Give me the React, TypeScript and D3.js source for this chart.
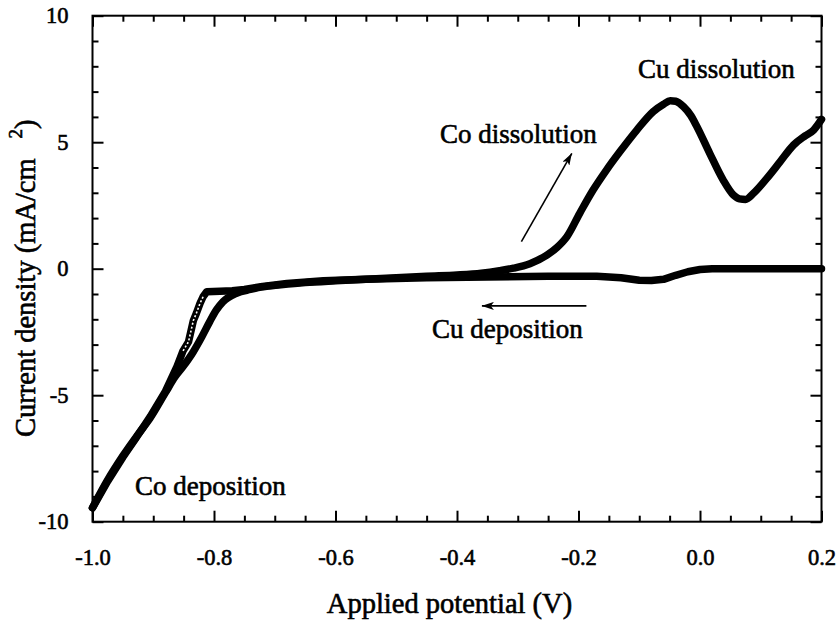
import React, { useEffect, useRef } from 'react';
import * as d3 from 'd3';

// cathodic sweep, 0.2 V -> -1.0 V
const cathodicV = [0.20, 0.15, 0.10, 0.05, 0.02, 0.00, -0.02, -0.04, -0.06, -0.08, -0.10, -0.13, -0.17, -0.25, -0.35, -0.45, -0.55, -0.62, -0.68, -0.72, -0.75, -0.77, -0.79, -0.812, -0.818, -0.823, -0.829, -0.834, -0.842, -0.851, -0.861, -0.88, -0.905, -0.93, -0.95, -0.975, -1.0];
const cathodicI = [0, 0, 0, 0, 0, -0.03, -0.12, -0.26, -0.42, -0.47, -0.46, -0.36, -0.30, -0.30, -0.33, -0.36, -0.42, -0.48, -0.58, -0.70, -0.82, -0.87, -0.89, -0.91, -1.11, -1.37, -1.76, -2.05, -2.89, -3.25, -3.87, -4.85, -5.85, -6.75, -7.45, -8.4, -9.45];

// anodic sweep, -1.0 V -> 0.2 V
const anodicV = [-1.0, -0.975, -0.95, -0.925, -0.905, -0.88, -0.864, -0.851, -0.834, -0.820, -0.807, -0.796, -0.785, -0.763, -0.74, -0.72, -0.69, -0.65, -0.60, -0.55, -0.50, -0.45, -0.40, -0.36, -0.33, -0.307, -0.28, -0.252, -0.235, -0.219, -0.198, -0.176, -0.154, -0.132, -0.104, -0.077, -0.060, -0.049, -0.040, -0.027, -0.015, -0.005, 0.016, 0.038, 0.055, 0.065, 0.075, 0.088, 0.110, 0.132, 0.154, 0.173, 0.187, 0.200];
const anodicI = [-9.45, -8.35, -7.4, -6.55, -5.9, -4.9, -4.27, -3.87, -3.28, -2.69, -2.09, -1.63, -1.30, -0.97, -0.82, -0.72, -0.64, -0.55, -0.48, -0.42, -0.36, -0.30, -0.25, -0.18, -0.08, 0.02, 0.20, 0.54, 0.85, 1.27, 2.19, 3.11, 3.90, 4.62, 5.48, 6.21, 6.50, 6.64, 6.62, 6.40, 6.05, 5.61, 4.56, 3.51, 2.91, 2.76, 2.74, 2.98, 3.57, 4.23, 4.89, 5.25, 5.48, 5.90];

// the fast part of the cathodic sweep (sparse markers)
const sparseFrom = 23;
const sparseTo = 30;

const xTickValues = [-1.0, -0.8, -0.6, -0.4, -0.2, 0.0, 0.2];
const yTickValues = [-10, -5, 0, 5, 10];

const labelTexts = ['Cu dissolution', 'Co dissolution', 'Cu deposition', 'Co deposition'];
const labelV = [-0.102, -0.428, -0.441, -0.930];
const labelI = [7.55, 4.96, -2.75, -8.94];

// arrows: [from V, from I, to V, to I]
const arrows = [
  [-0.294, 1.07, -0.211, 4.56],
  [-0.187, -1.47, -0.359, -1.47],
];

const W = 838;
const H = 621;
const FONT = '"Liberation Serif", "Times New Roman", serif';

export default function App() {
  const ref = useRef<SVGSVGElement>(null);

  useEffect(() => {
    const svg = d3.select(ref.current);
    svg.selectAll('*').remove();

    const left = 92.5, right = 821.5, top = 15.7, bottom = 521.7;
    const x = d3.scaleLinear().domain([-1.0, 0.2]).range([left, right]);
    const y = d3.scaleLinear().domain([-10, 10]).range([bottom, top]);

    const minorX = d3.range(-1.0, 0.2001, 0.05).filter((v) => Math.abs(Math.round(v / 0.2) * 0.2 - v) > 1e-6);
    const minorY = d3.range(-10, 10.001, 1).filter((v) => v % 5 !== 0);

    // minor ticks on all four sides
    const minorSize = 6;
    const majorSize = 11;
    svg.append('g').attr('transform', `translate(0,${bottom})`)
      .call(d3.axisBottom(x).tickValues(minorX).tickSize(-minorSize).tickFormat(() => ''));
    svg.append('g').attr('transform', `translate(0,${top})`)
      .call(d3.axisTop(x).tickValues(minorX).tickSize(-minorSize).tickFormat(() => ''));
    svg.append('g').attr('transform', `translate(${left},0)`)
      .call(d3.axisLeft(y).tickValues(minorY).tickSize(-minorSize).tickFormat(() => ''));
    svg.append('g').attr('transform', `translate(${right},0)`)
      .call(d3.axisRight(y).tickValues(minorY).tickSize(-minorSize).tickFormat(() => ''));

    // major ticks
    svg.append('g').attr('transform', `translate(0,${bottom})`)
      .call(d3.axisBottom(x).tickValues(xTickValues).tickSize(-majorSize).tickPadding(27)
        .tickFormat((d) => (d as number).toFixed(1)));
    svg.append('g').attr('transform', `translate(0,${top})`)
      .call(d3.axisTop(x).tickValues(xTickValues).tickSize(-majorSize).tickFormat(() => ''));
    svg.append('g').attr('transform', `translate(${left},0)`)
      .call(d3.axisLeft(y).tickValues(yTickValues).tickSize(-majorSize).tickPadding(24)
        .tickFormat((d) => String(d)));
    svg.append('g').attr('transform', `translate(${right},0)`)
      .call(d3.axisRight(y).tickValues(yTickValues).tickSize(-majorSize).tickFormat(() => ''));

    svg.selectAll('.domain').remove();
    svg.selectAll('.tick line').attr('stroke', '#000').attr('stroke-width', 2);
    svg.selectAll('.tick text').attr('font-family', FONT).attr('font-size', 22.5)
      .attr('fill', '#000').attr('stroke', '#000').attr('stroke-width', 0.6);

    svg.append('rect')
      .attr('x', left).attr('y', top)
      .attr('width', right - left).attr('height', bottom - top)
      .attr('fill', 'none').attr('stroke', '#000').attr('stroke-width', 2);

    // curves
    const path = (vs: number[], is: number[], curve: d3.CurveFactory) =>
      d3.line<number>().x((d) => x(d)).y((_, i) => y(is[i])).curve(curve)(vs) as string;

    const plot = svg.append('g');
    plot.append('path').attr('d', path(cathodicV, cathodicI, d3.curveLinear))
      .attr('fill', 'none').attr('stroke', '#000').attr('stroke-width', 7.5)
      .attr('stroke-linejoin', 'round').attr('stroke-linecap', 'round');
    plot.append('path').attr('d', path(anodicV, anodicI, d3.curveMonotoneX))
      .attr('fill', 'none').attr('stroke', '#000').attr('stroke-width', 7.5)
      .attr('stroke-linejoin', 'round').attr('stroke-linecap', 'round');
    const sv = cathodicV.slice(sparseFrom + 1, sparseTo);
    const si = cathodicI.slice(sparseFrom + 1, sparseTo);
    plot.append('path').attr('d', path(sv, si, d3.curveLinear))
      .attr('fill', 'none').attr('stroke', '#fff').attr('stroke-width', 1.6)
      .attr('stroke-dasharray', '2 2');

    // arrows
    const defs = svg.append('defs');
    defs.append('marker').attr('id', 'head')
      .attr('viewBox', '0 0 12 8').attr('refX', 12).attr('refY', 4)
      .attr('markerWidth', 12).attr('markerHeight', 8)
      .attr('markerUnits', 'userSpaceOnUse').attr('orient', 'auto')
      .append('path').attr('d', 'M0,0 L12,4 L0,8 L3,4 Z').attr('fill', '#000');
    arrows.forEach((a) => {
      svg.append('line')
        .attr('x1', x(a[0])).attr('y1', y(a[1]))
        .attr('x2', x(a[2])).attr('y2', y(a[3]))
        .attr('stroke', '#000').attr('stroke-width', 1.6)
        .attr('marker-end', 'url(#head)');
    });

    // annotations
    labelTexts.forEach((t, i) => {
      svg.append('text').attr('x', x(labelV[i])).attr('y', y(labelI[i]))
        .attr('font-family', FONT).attr('font-size', 27).attr('fill', '#000')
        .attr('stroke', '#000').attr('stroke-width', 0.6).text(t);
    });

    // axis titles
    svg.append('text').attr('x', 449.5).attr('y', 613)
      .attr('text-anchor', 'middle').attr('font-family', FONT).attr('font-size', 28.5)
      .attr('stroke', '#000').attr('stroke-width', 0.6)
      .text('Applied potential (V)');
    const yt = svg.append('text').attr('transform', 'translate(35,437) rotate(-90)')
      .attr('font-family', FONT).attr('font-size', 28.5)
      .attr('stroke', '#000').attr('stroke-width', 0.6);
    yt.append('tspan').text('Current density (mA/cm');
    yt.append('tspan').attr('dx', 20).attr('dy', -13).attr('font-size', 19).text('2');
    yt.append('tspan').attr('dy', 13).text(')');
  }, []);

  return (
    <svg ref={ref} width={W} height={H}
      style={{ position: 'absolute', left: 0, top: 0, background: '#fff' }} />
  );
}
